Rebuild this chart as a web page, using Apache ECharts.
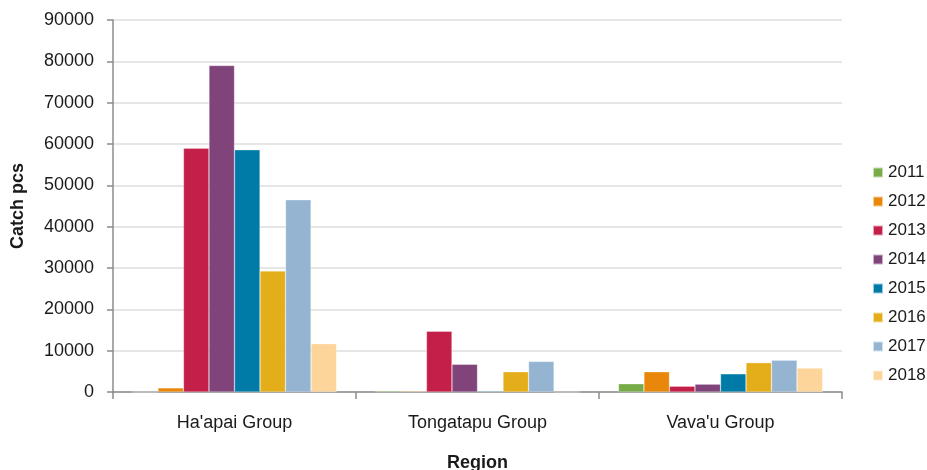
<!DOCTYPE html>
<html>
<head>
<meta charset="utf-8">
<script src="https://cdn.jsdelivr.net/npm/echarts@6/dist/echarts.min.js"></script>
<style>
  html, body { margin: 0; padding: 0; background: #fff; }
  #chart { width: 927px; height: 470px; }
</style>
</head>
<body>
<div id="chart"></div>
<script>
// categories and values
const regions = ["Ha'apai Group", 'Tongatapu Group', "Vava'u Group"]
const years = ['2011', '2012', '2013', '2014', '2015', '2016', '2017', '2018']
const colors = ['#77ac48', '#e8870a', '#c41f48', '#80437a', '#007ba7', '#e4ae1a', '#95b4d2', '#fdd49a']
const catch2011 = [0, 250, 2000]
const catch2012 = [1000, 200, 4900]
const catch2013 = [59000, 14700, 1400]
const catch2014 = [79000, 6700, 1900]
const catch2015 = [58600, 200, 4400]
const catch2016 = [29300, 4900, 7100]
const catch2017 = [46500, 7400, 7700]
const catch2018 = [11700, 0, 5800]
const seriesValues = [catch2011, catch2012, catch2013, catch2014, catch2015, catch2016, catch2017, catch2018]

const font = 'Liberation Sans, Arial, sans-serif'
const chart = echarts.init(document.getElementById('chart'))

chart.setOption({
  animation: false,
  color: colors,
  textStyle: { fontFamily: font },
  grid: {
    left: 113,
    right: 85,
    top: 20,
    bottom: 78,
    containLabel: false,
    outerBoundsMode: 'none'
  },
  legend: {
    orient: 'vertical',
    left: 872,
    top: 163,
    padding: 0,
    icon: 'rect',
    itemWidth: 10,
    itemHeight: 10,
    itemGap: 10,
    textStyle: { fontSize: 17, color: '#1a1a1a', lineHeight: 19, fontFamily: font },
    data: years
  },
  xAxis: {
    type: 'category',
    data: regions,
    name: 'Region',
    nameLocation: 'middle',
    nameGap: 62,
    nameTextStyle: { fontSize: 18, fontWeight: 'bold', color: '#1a1a1a', fontFamily: font },
    axisLine: { lineStyle: { color: '#8c8c8c', width: 1.5 } },
    axisTick: { show: true, length: 7, lineStyle: { color: '#8c8c8c', width: 1.5 } },
    axisLabel: { fontSize: 18, color: '#1a1a1a', margin: 22, fontFamily: font }
  },
  yAxis: {
    type: 'value',
    min: 0,
    max: 90000,
    interval: 10000,
    name: 'Catch pcs',
    nameLocation: 'middle',
    nameGap: 86,
    nameTextStyle: { fontSize: 18, fontWeight: 'bold', color: '#1a1a1a', fontFamily: font },
    axisLine: { show: true, lineStyle: { color: '#8c8c8c', width: 1.5 } },
    axisTick: { show: true, length: 6, lineStyle: { color: '#8c8c8c', width: 1.5 } },
    axisLabel: { fontSize: 18, color: '#1a1a1a', margin: 19, fontFamily: font, formatter: v => String(v) },
    splitLine: { lineStyle: { color: '#dedede', width: 1.5 } }
  },
  series: years.map((y, i) => ({
    name: y,
    type: 'bar',
    data: seriesValues[i],
    barGap: '0%',
    barCategoryGap: '16%',
    itemStyle: { borderColor: 'rgba(255,255,255,0.6)', borderWidth: 0.5 }
  }))
})
</script>
</body>
</html>
